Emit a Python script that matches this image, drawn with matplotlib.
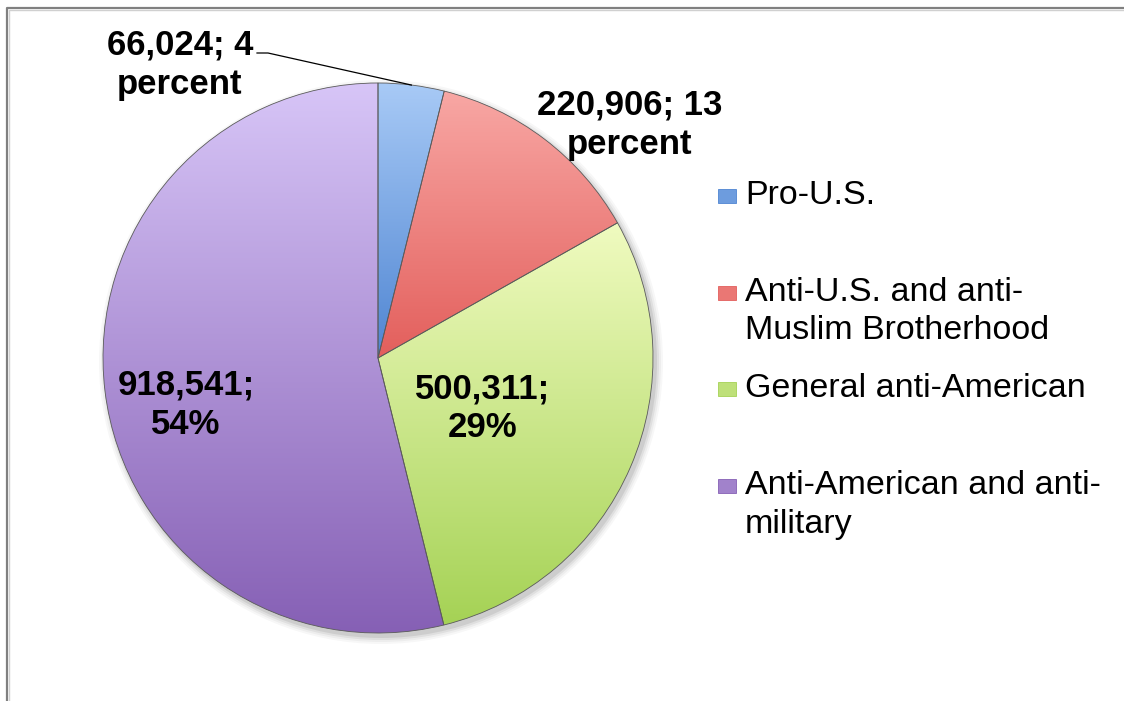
import matplotlib
matplotlib.use("Agg")
import matplotlib.pyplot as plt
import numpy as np
from matplotlib.colors import LinearSegmentedColormap, to_rgb
from matplotlib.lines import Line2D
from matplotlib.patches import Circle, Rectangle

plt.rcParams["font.family"] = ["Liberation Sans", "DejaVu Sans"]

# data
categories = [
    "Pro-U.S.",
    "Anti-U.S. and anti-\nMuslim Brotherhood",
    "General anti-American",
    "Anti-American and anti-\nmilitary",
]
counts = [66024, 220906, 500311, 918541]
share_text = ["; 4\npercent", "; 13\npercent", ";\n29%", ";\n54%"]

# gradient colours (top, bottom) for each slice
tops = ["#a8caf6", "#f8a7a4", "#f0fbc0", "#d7c5f7"]
bottoms = ["#4f85d2", "#e35f5c", "#a5d255", "#8660b5"]

W, H = 1124, 701
CX, CY, R = 378, H - 358, 275
CAP = 26  # px from text top to first baseline

fig = plt.figure(figsize=(W / 100, H / 100), dpi=100)
ax = fig.add_axes([0, 0, 1, 1])

# soft shadow under the pie
for k, a in [(7, 0.03), (5, 0.04), (3, 0.06), (1, 0.08)]:
    ax.add_patch(Circle((CX + 3, CY - 4), R + k, color="black", alpha=a, lw=0, zorder=0))

wedges, _ = ax.pie(
    counts, startangle=90, counterclock=False, center=(CX, CY), radius=R,
    wedgeprops=dict(facecolor="none", edgecolor="#5a5a5a", linewidth=0.6),
)

grad = np.linspace(0, 1, 256).reshape(-1, 1)
for w, top, bot in zip(wedges, tops, bottoms):
    w.set_zorder(3)
    ext = w.get_path().get_extents()
    cmap = LinearSegmentedColormap.from_list("g", [bot, top])
    im = ax.imshow(grad, extent=(ext.x0, ext.x1, ext.y0, ext.y1), origin="lower",
                   cmap=cmap, aspect="auto", interpolation="bilinear", zorder=2)
    im.set_clip_path(w)

# data labels (positions = first-line baseline, in px from top)
labels = [f"{c:,}{s}" for c, s in zip(counts, share_text)]
label_pos = [(180, 55), (630, 115), (483, 398), (186, 395)]
for text, (x, y) in zip(labels, label_pos):
    ax.text(x, H - y + CAP, text, ha="center", va="top", fontsize=25,
            fontweight="bold", linespacing=1.22, zorder=5)

# leader line for the small slice
w0 = wedges[0]
mid = np.deg2rad((w0.theta1 + w0.theta2) / 2)
ex, ey = CX + R * np.cos(mid), CY + R * np.sin(mid)
ax.add_line(Line2D([257, 268, ex], [H - 53, H - 53, ey], color="black", lw=0.9, zorder=4))

# legend
base0, step = 205, 96.7
for i, (lab, top, bot) in enumerate(zip(categories, tops, bottoms)):
    yb = H - (base0 + i * step)
    mixed = tuple((np.array(to_rgb(top)) + 2 * np.array(to_rgb(bot))) / 3)
    ax.add_patch(Rectangle((718, yb + 2), 18, 14, facecolor=mixed,
                           edgecolor=bot, lw=0.6, zorder=4))
    ax.text(745, yb + CAP - 1, lab, ha="left", va="top", fontsize=24.5,
            linespacing=1.32, zorder=5)

# chart frame (top and left edges visible)
ax.add_line(Line2D([7, 7, W + 5], [-5, H - 8, H - 8], color="#808080", lw=1.6,
                   clip_on=False, zorder=6))
ax.add_line(Line2D([9, 9, W + 5], [-5, H - 10, H - 10], color="#d0d0d0", lw=1.0,
                   clip_on=False, zorder=6))

ax.set_xlim(0, W)
ax.set_ylim(0, H)
ax.axis("off")

fig.savefig("out.png", dpi=100)
